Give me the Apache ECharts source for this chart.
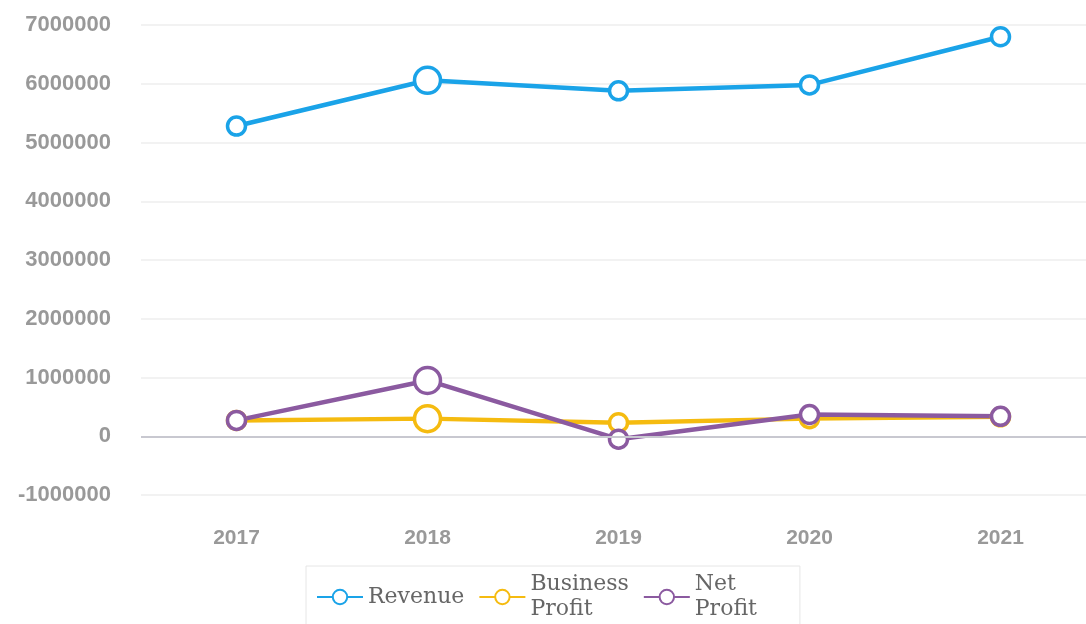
<!DOCTYPE html>
<html>
<head>
<meta charset="utf-8">
<script src="https://cdn.jsdelivr.net/npm/echarts@6/dist/echarts.min.js"></script>
<style>html,body{margin:0;padding:0;background:#fff}#c{width:1086px;height:624px}</style>
</head>
<body>
<div id="c"></div>
<script>
const years = ['2017', '2018', '2019', '2020', '2021'];
const revenue = [5280000, 6060000, 5880000, 5980000, 6800000];
const businessProfit = [270000, 300000, 230000, 300000, 330000];
const netProfit = [270000, 950000, -50000, 370000, 340000];
const yTicks = [-1000000, 0, 1000000, 2000000, 3000000, 4000000, 5000000, 6000000, 7000000];
const highlightIndex = 1;

const chart = echarts.init(document.getElementById('c'));
function mk(name, values, color) {
  return {
    name: name,
    type: 'line',
    data: values.map((v, i) => i === highlightIndex ? {value: v, symbolSize: 26} : v),
    symbol: 'circle',
    symbolSize: 18,
    lineStyle: {width: 4.5, color: color},
    itemStyle: {color: '#fff', borderWidth: 3.5, borderColor: color},
    emphasis: {disabled: true}
  };
}
chart.setOption({
  animation: false,
  grid: {left: 141, width: 955, top: 25, bottom: 129, outerBoundsMode: 'none', containLabel: false},
  xAxis: {
    type: 'category',
    data: years,
    boundaryGap: true,
    axisLine: {show: false},
    axisTick: {show: false},
    axisLabel: {color: '#999', fontSize: 21, fontFamily: 'Liberation Sans, Arial', fontWeight: 'bold', margin: 33}
  },
  yAxis: {
    type: 'value',
    min: yTicks[0],
    max: yTicks[yTicks.length - 1],
    interval: 1000000,
    axisLine: {show: false},
    axisTick: {show: false},
    axisLabel: {color: '#999', fontSize: 22, fontFamily: 'Liberation Sans, Arial', fontWeight: 'bold', margin: 30, formatter: v => String(v)},
    splitLine: {lineStyle: {color: '#f2f2f2', width: 2}}
  },
  legend: {
    left: 306,
    top: 566,
    width: 520,
    padding: [6, 43, 12, 10],
    itemGap: 14,
    itemWidth: 46,
    itemHeight: 18,
    borderColor: '#e6e6e6',
    borderWidth: 1,
    textStyle: {fontFamily: 'DejaVu Serif', fontSize: 22, color: '#666', lineHeight: 25},
    formatter: n => n.replace(' ', '\n'),
    data: ['Revenue', 'Business Profit', 'Net Profit']
  },
  series: [
    mk('Revenue', revenue, '#1aa3e8'),
    mk('Business Profit', businessProfit, '#f5bb10'),
    mk('Net Profit', netProfit, '#8b5aa0'),
    {
      type: 'line', data: [], silent: true,
      markLine: {symbol: 'none', silent: true, label: {show: false},
        lineStyle: {color: '#c8c8d0', width: 2, type: 'solid'}, data: [{yAxis: 0}]}
    }
  ]
});
</script>
</body>
</html>
